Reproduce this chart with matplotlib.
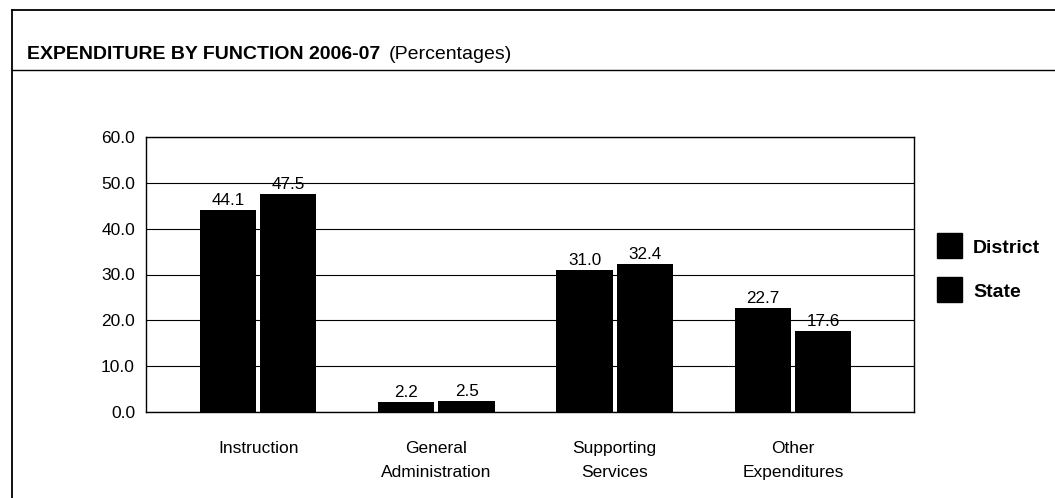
import matplotlib
matplotlib.use("Agg")
import matplotlib.pyplot as plt
import numpy as np
from matplotlib.lines import Line2D
from matplotlib.patches import Rectangle
from matplotlib import font_manager as fm

plt.rcParams['font.family'] = ['Liberation Sans', 'DejaVu Sans']

categories = ["Instruction", "General\nAdministration", "Supporting\nServices", "Other\nExpenditures"]
district = [44.1, 2.2, 31.0, 22.7]
state = [47.5, 2.5, 32.4, 17.6]
series_names = ["District", "State"]
yticks = [0, 10, 20, 30, 40, 50, 60]

# condensed face if present (reference looks like Arial Narrow)
try:
    fm.findfont(fm.FontProperties(family='Liberation Sans Narrow'), fallback_to_default=False)
    NARROW = ['Liberation Sans Narrow', 'Liberation Sans']
    TITLE_FS, CAT_FS = 16.5, 15.0
except Exception:
    NARROW = ['Liberation Sans', 'DejaVu Sans']
    TITLE_FS, CAT_FS = 14, 12.5

W, H = 1055, 498
PX = 72 / 100  # points per pixel
fig = plt.figure(figsize=(W / 100, H / 100), dpi=100)

# outer frame lines
fig.add_artist(Line2D([12 / W, 1.0], [1 - 10 / H, 1 - 10 / H], color='black', lw=1.3))
fig.add_artist(Line2D([12 / W, 1.0], [1 - 70 / H, 1 - 70 / H], color='black', lw=1.0))
fig.add_artist(Line2D([12 / W, 12 / W], [0, 1 - 10 / H], color='black', lw=1.3))

t1 = fig.text(27 / W, 1 - 59 / H, "EXPENDITURE BY FUNCTION 2006-07", fontsize=TITLE_FS,
              fontweight='bold', va='baseline', ha='left', family=NARROW)
fig.canvas.draw()
bb = t1.get_window_extent()
fig.text((bb.x1 + 8) / W, 1 - 59 / H, "(Percentages)", fontsize=TITLE_FS,
         va='baseline', ha='left', family=NARROW)

ax = fig.add_axes([146 / W, (H - 412) / H, (914 - 146) / W, (412 - 137) / H])
x = np.arange(len(categories))
bw = 0.315
off = 0.169
b1 = ax.bar(x - off, district, width=bw, color='black')
b2 = ax.bar(x + off, state, width=bw, color='black')

for bars, vals in ((b1, district), (b2, state)):
    for r, v in zip(bars, vals):
        ax.annotate(f"{v:.1f}", (r.get_x() + r.get_width() / 2, v),
                    xytext=(0, 5 * PX), textcoords='offset points',
                    ha='center', va='baseline', fontsize=12.3)

ax.set_xlim(-0.63, 3.68)
ax.set_ylim(0, 60)
ax.set_yticks(yticks)
ax.set_yticklabels([f"{t:.1f}" for t in yticks], fontsize=12.5)
ax.set_xticks(x)
ax.set_xticklabels([])
ax.tick_params(axis='x', length=0)
ax.tick_params(axis='y', length=0, pad=11 * PX)
ax.yaxis.grid(True, color='black', lw=0.8)
ax.set_axisbelow(True)
for s in ax.spines.values():
    s.set_color('black')
    s.set_linewidth(1.0)

# category labels (two lines each), baselines below axis
for xi, lab in zip(x, categories):
    for k, line in enumerate(lab.split("\n")):
        ax.annotate(line, (xi, 0), xycoords=('data', 'axes fraction'),
                    xytext=(0, -(41 + 24 * k) * PX), textcoords='offset points',
                    ha='center', va='baseline', fontsize=CAT_FS, family=NARROW)

# legend
for name, ytop in zip(series_names, [233, 277]):
    fig.add_artist(Rectangle((937 / W, 1 - (ytop + 25) / H), 25 / W, 25 / H,
                             facecolor='black', edgecolor='black',
                             transform=fig.transFigure))
    fig.text(973 / W, 1 - (ytop + 20) / H, name, fontsize=14, fontweight='bold',
             va='baseline', ha='left')

fig.savefig("out.png", dpi=100)
